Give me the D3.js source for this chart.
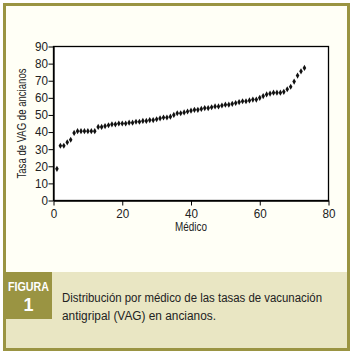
<!DOCTYPE html>
<html><head><meta charset="utf-8">
<script src="https://cdn.jsdelivr.net/npm/d3@7"></script>
<style>
body{margin:0;background:#fff;}
svg text{font-family:"Liberation Sans",Arial,sans-serif;}
</style></head>
<body>
<svg id="c" width="355" height="354"></svg>
<script>
const medicos = d3.range(1, 74);
const tasas = [18.5,32,32,34,35.5,39.5,40.5,40.5,40.5,40.5,40.5,40.5,43,43,43.5,44,44.5,44.5,45,45,
  45,45.5,45.5,46,46,46.5,46.5,47,47,47.5,48,48.5,48.5,49,50,51,51,51.5,52,52.5,
  53,53,53.5,54,54,54.5,55,55,55.5,56,56,56.5,57,57.5,58,58,58.5,59,59,60,
  61,62,62.5,63,63,63,63.5,65,66.5,69.5,73,75.5,77.5];
const xTicks = [0,20,40,60,80];
const yTicks = [0,10,20,30,40,50,60,70,80,90];
const yTitle = "Tasa de VAG de ancianos";
const xTitle = "Médico";
const figLabel = "FIGURA";
const figNum = "1";
const caption = ["Distribución por médico de las tasas de vacunación","antigripal (VAG) en ancianos."];
const captionLen = [260, 154];

const svg = d3.select("#c");
const olive = "#9a9442";
// background
svg.append("rect").attr("x",0).attr("y",0).attr("width",355).attr("height",354).attr("fill","#fff");
svg.append("rect").attr("x",5).attr("y",5).attr("width",343).attr("height",344).attr("fill","#fffff6");
// caption band
svg.append("rect").attr("x",5).attr("y",272).attr("width",343).attr("height",77).attr("fill","#e9e6c3");
svg.append("rect").attr("x",5).attr("y",272).attr("width",47).attr("height",47).attr("fill",olive);
svg.append("rect").attr("x",4.5).attr("y",4.5).attr("width",344).attr("height",345)
  .attr("fill","none").attr("stroke",olive).attr("stroke-width",3);

svg.append("text").attr("x",8).attr("y",291)
  .attr("textLength",41).attr("lengthAdjust","spacingAndGlyphs")
  .attr("fill","#fff").attr("font-weight","bold").attr("font-size",12).text(figLabel);
svg.append("text").attr("x",28.5).attr("y",311).attr("text-anchor","middle")
  .attr("fill","#fff").attr("font-weight","bold").attr("font-size",18).text(figNum);
caption.forEach((t,i)=>{
  svg.append("text").attr("x",62).attr("y",302+i*18).attr("fill","#222")
    .attr("textLength",captionLen[i]).attr("lengthAdjust","spacingAndGlyphs")
    .attr("font-size",12.5).text(t);
});

const x = d3.scaleLinear().domain([0,80]).range([53.5,328.5]);
const y = d3.scaleLinear().domain([0,90]).range([200.5,46.5]);

// box
svg.append("rect").attr("x",x(0)).attr("y",y(90)).attr("width",x(80)-x(0)).attr("height",y(0)-y(90))
  .attr("fill","#fff").attr("stroke","#000").attr("stroke-width",1.3);

const xa = svg.append("g").attr("transform",`translate(0,${y(0)})`)
  .call(d3.axisBottom(x).tickValues(xTicks).tickSize(5).tickSizeOuter(0));
const ya = svg.append("g").attr("transform",`translate(${x(0)},0)`)
  .call(d3.axisLeft(y).tickValues(yTicks).tickSize(5).tickSizeOuter(0));
[xa,ya].forEach(a=>{
  a.selectAll("path").attr("stroke","#000").attr("stroke-width",1.3);
  a.selectAll("line").attr("stroke","#000");
  a.selectAll("text").attr("fill","#222").attr("font-size",12)
   .style("font-family",'"Liberation Sans",Arial,sans-serif')
   .attr("textLength",d=>String(d).length*6.5).attr("lengthAdjust","spacingAndGlyphs");
});
xa.selectAll("text").attr("y",7).attr("dy","0.9em");
ya.selectAll("text").attr("x",-5.5);

svg.append("text").attr("transform",`translate(26,${(y(0)+y(90))/2}) rotate(-90)`)
  .attr("text-anchor","middle").attr("fill","#222").attr("font-size",12.5)
  .attr("textLength",110).attr("lengthAdjust","spacingAndGlyphs").text(yTitle);
svg.append("text").attr("x",(x(0)+x(80))/2).attr("y",231).attr("text-anchor","middle")
  .attr("fill","#222").attr("font-size",12.5)
  .attr("textLength",32).attr("lengthAdjust","spacingAndGlyphs").text(xTitle);

const sym = d3.symbol().type(d3.symbolDiamond).size(11);
svg.append("g").selectAll("path").data(medicos).join("path")
  .attr("transform",(d,i)=>`translate(${x(d)},${y(tasas[i])})`)
  .attr("d",sym).attr("fill","#111");
</script>
</body></html>
